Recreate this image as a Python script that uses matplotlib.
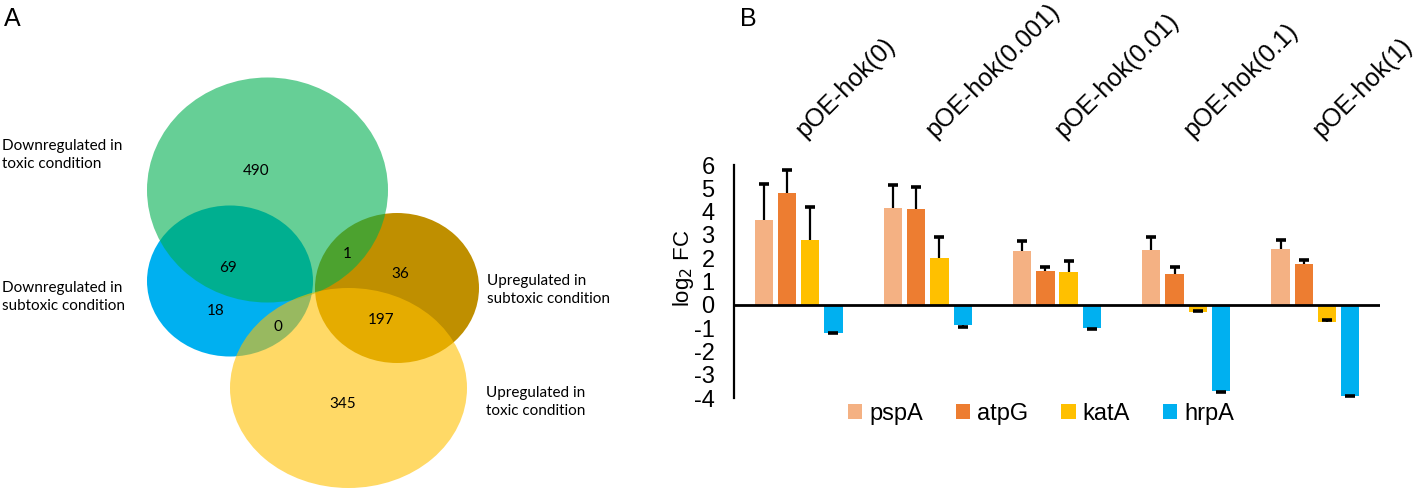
import matplotlib
matplotlib.use("Agg")
import matplotlib.pyplot as plt
from matplotlib.patches import Ellipse, Patch
import numpy as np

# ---- panel A data (venn counts) ----
venn_sets = ["Downregulated in\ntoxic condition",
             "Downregulated in\nsubtoxic condition",
             "Upregulated in\nsubtoxic condition",
             "Upregulated in\ntoxic condition"]
venn_counts = [490, 69, 18, 0, 1, 36, 197, 345]

# ---- panel B data ----
conditions = ["pOE-hok(0)", "pOE-hok(0.001)", "pOE-hok(0.01)", "pOE-hok(0.1)", "pOE-hok(1)"]
genes = ["pspA", "atpG", "katA", "hrpA"]
pspA = [3.62, 4.15, 2.33, 2.36, 2.39]
atpG = [4.78, 4.10, 1.46, 1.33, 1.76]
katA = [2.79, 2.03, 1.40, -0.33, -0.73]
hrpA = [-1.19, -0.86, -1.00, -3.69, -3.90]
# signed error: + drawn upward, - drawn downward
pspA_err = [1.57, 1.00, 0.42, 0.57, 0.37]
atpG_err = [1.01, 0.95, 0.17, 0.31, 0.18]
katA_err = [1.41, 0.89, 0.49, 0.05, 0.08]
hrpA_err = [-0.04, -0.10, -0.04, -0.06, -0.03]
yticks = [6, 5, 4, 3, 2, 1, 0, -1, -2, -3, -4]

W, H = 1418, 490
fig = plt.figure(figsize=(W / 100, H / 100), dpi=100)

# ================= panel A =================
axa = fig.add_axes([0, 0, 640 / W, 1])
axa.set_xlim(0, 640)
axa.set_ylim(H, 0)
axa.axis("off")

# ellipses: (cx, cy, w, h, color, alpha, z)
shapes = [
    (230, 281, 166, 151, "#00B0F0", 1.0, 1),
    (397, 288, 164, 150, "#BF8F00", 1.0, 1),
    (267.5, 190, 241, 225, "#00AF50", 0.6, 2),
    (348.5, 388, 237, 200, "#FFC000", 0.6, 3),
]
for cx, cy, w, h, c, a, z in shapes:
    axa.add_patch(Ellipse((cx, cy), w, h, facecolor=c, alpha=a, edgecolor="none", zorder=z))

count_pos = [(256, 171), (228, 268), (216, 311), (278, 327),
             (347, 254), (400, 274), (381, 320), (343, 404)]
for (x, y), n in zip(count_pos, venn_counts):
    axa.text(x, y, str(n), ha="center", va="center", fontsize=11,
             family="Lato", zorder=5)

label_pos = [(2, 155), (2, 297), (487, 290), (486, 402)]
for (x, y), lab in zip(label_pos, venn_sets):
    axa.text(x, y, lab, ha="left", va="center", fontsize=11, family="Lato",
             linespacing=1.3)

fig.text(4 / W, 1 - 19 / H, "A", fontsize=18, family="Liberation Sans", va="center")
fig.text(740 / W, 1 - 19 / H, "B", fontsize=18, family="Liberation Sans", va="center")

# ================= panel B =================
axb = fig.add_axes([734 / W, (H - 398) / H, 646 / W, 233 / H])
colors = ["#F4B183", "#ED7D31", "#FFC000", "#00B0F0"]
values = [pspA, atpG, katA, hrpA]
errors = [pspA_err, atpG_err, katA_err, hrpA_err]
x = np.arange(len(conditions))
step, bw = 0.18, 0.142
for i, (g, v, e, c) in enumerate(zip(genes, values, errors, colors)):
    xs = x + (i - 1.5) * step
    v = np.array(v)
    e = np.array(e)
    axb.bar(xs, v, width=bw, color=c, label=g, zorder=2)
    # one-sided error bars: stem + single cap
    axb.vlines(xs, v, v + e, color="black", lw=1.6, zorder=3)
    axb.plot(xs, v + e, ls="none", marker="_", ms=7, mew=2.6, color="black", zorder=3)

axb.axhline(0, color="black", lw=2, zorder=4)
axb.set_xlim(-0.5, 4.5)
axb.set_ylim(-4, 6)
axb.set_yticks(yticks)
axb.set_yticklabels([str(t) for t in yticks], family="Liberation Sans", fontsize=17)
axb.tick_params(axis="y", length=0, pad=14)
axb.set_xticks([])
for s in ["top", "right", "bottom"]:
    axb.spines[s].set_visible(False)
axb.spines["left"].set_linewidth(1.6)

for xi, lab in zip(x, conditions):
    axb.text(xi + 0.08, 1.10, lab, transform=axb.get_xaxis_transform(),
             rotation=45, rotation_mode="anchor", ha="left", va="bottom",
             fontsize=18, family="Liberation Sans")

fig.text(684 / W, 1 - 268 / H, r"log$_2$ FC", rotation=90, ha="center", va="center",
         fontsize=16, family="Liberation Sans")

handles = [Patch(facecolor=c, label=g) for g, c in zip(genes, colors)]
fig.legend(handles=handles, loc="center", bbox_to_anchor=(1041 / W, 1 - 414 / H),
           ncol=4, frameon=False, prop={"family": "Liberation Sans", "size": 17},
           handlelength=0.6, handleheight=0.6, handletextpad=0.3, columnspacing=1.4)

fig.savefig("out.png", dpi=100)
